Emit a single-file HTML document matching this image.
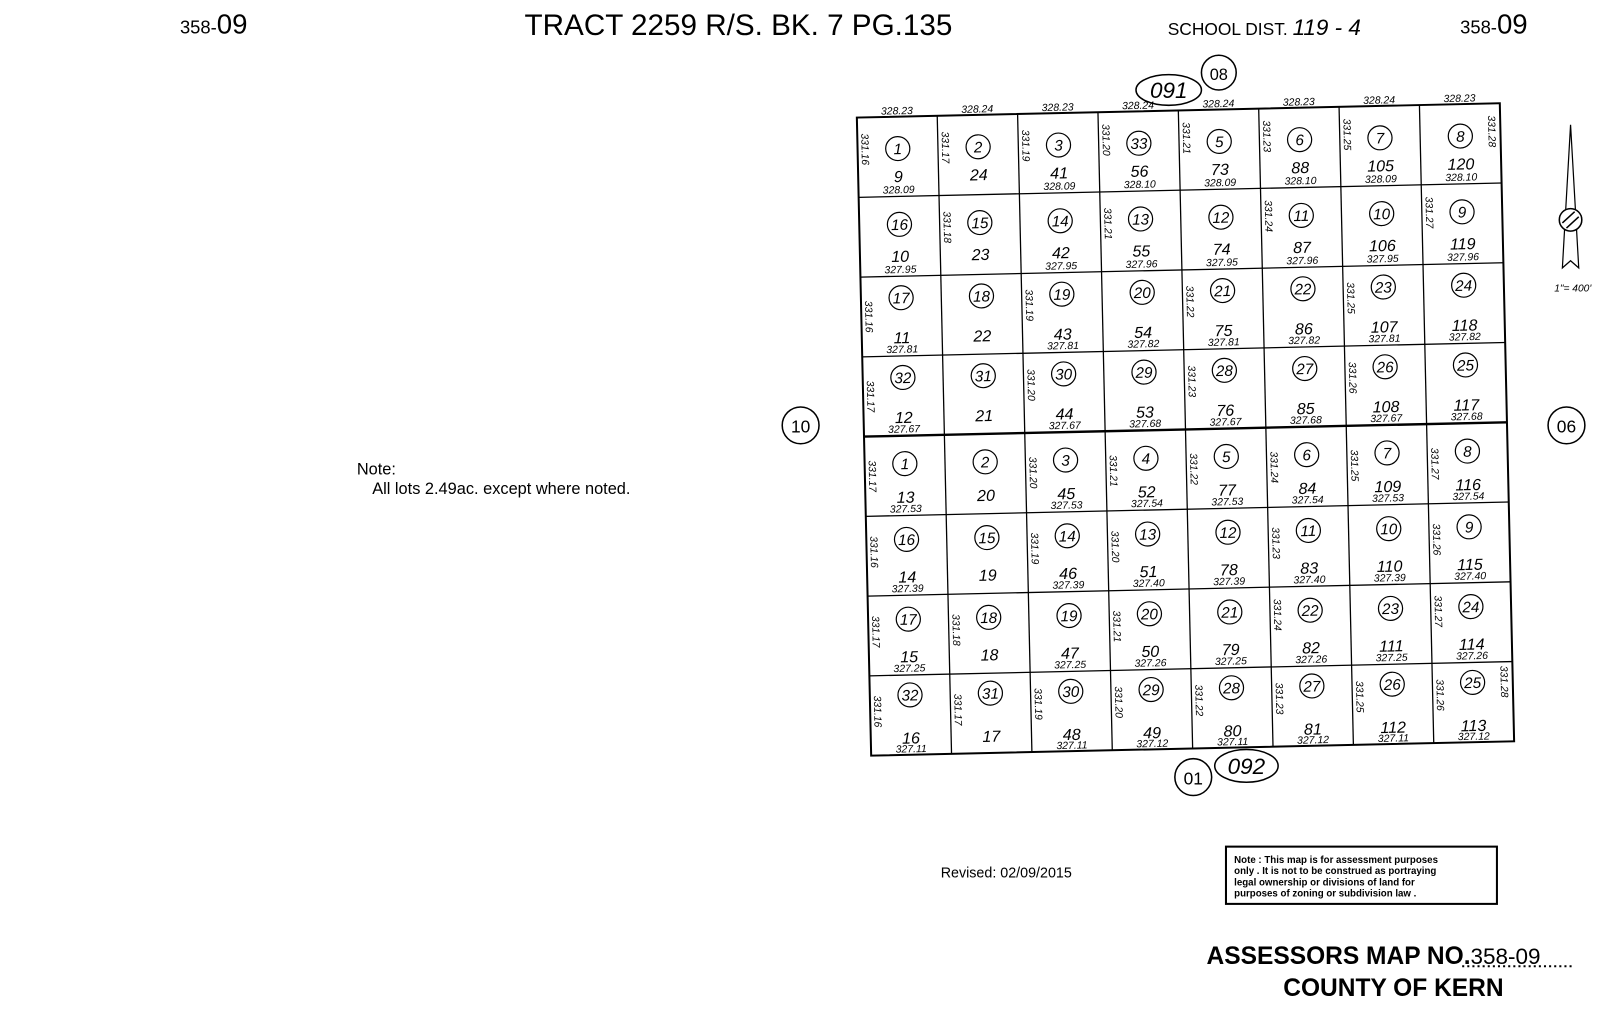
<!DOCTYPE html>
<html><head><meta charset="utf-8"><style>
html,body{margin:0;padding:0;background:#fff;width:1600px;height:1018px;overflow:hidden}
svg{display:block}
text{font-family:"Liberation Sans",sans-serif;fill:#000}
.g text{font-style:italic;text-anchor:middle}
.c{font-size:19px}
.p{font-size:20px}
.a{font-size:13px}
.t{font-size:13px}
.s{font-size:13px;text-anchor:start!important}
.g circle{fill:none;stroke:#000;stroke-width:1.5}
</style></head><body>
<svg width="1600" height="1018" viewBox="0 0 1600 1018" xmlns="http://www.w3.org/2000/svg">
<g transform="scale(1.0225)">
<text x="176" y="33" font-size="18">358-<tspan font-size="27">09</tspan></text>
<text x="513" y="34" font-size="29">TRACT 2259 R/S. BK. 7 PG.135</text>
<text x="1142" y="34" font-size="17">SCHOOL DIST. <tspan font-style="italic" font-size="22">119 - 4</tspan></text>
<text x="1428" y="33" font-size="18">358-<tspan font-size="27">09</tspan></text>

<ellipse cx="1143" cy="88" rx="32" ry="15" fill="none" stroke="#000" stroke-width="1.5"/>
<text x="1143" y="96" font-size="22" font-style="italic" text-anchor="middle">091</text>
<circle cx="1192" cy="71" r="17" fill="none" stroke="#000" stroke-width="1.5"/>
<text x="1192" y="78" font-size="16" text-anchor="middle">08</text>
<circle cx="783" cy="416" r="18" fill="none" stroke="#000" stroke-width="1.5"/>
<text x="783" y="423" font-size="17" text-anchor="middle">10</text>
<circle cx="1532" cy="416" r="18" fill="none" stroke="#000" stroke-width="1.5"/>
<text x="1532" y="423" font-size="17" text-anchor="middle">06</text>
<circle cx="1167" cy="760" r="18" fill="none" stroke="#000" stroke-width="1.5"/>
<text x="1167" y="767" font-size="17" text-anchor="middle">01</text>
<ellipse cx="1219" cy="749" rx="31" ry="16" fill="none" stroke="#000" stroke-width="1.5"/>
<text x="1219" y="757" font-size="22" font-style="italic" text-anchor="middle">092</text>

<!-- north arrow -->
<path d="M1536 122 L1528 262 L1536 255 L1544 262 Z" fill="none" stroke="#000" stroke-width="1.2"/>
<circle cx="1536" cy="215" r="11" fill="#fff" stroke="#000" stroke-width="1.5"/>
<line x1="1528" y1="218" x2="1540" y2="207" stroke="#000" stroke-width="1.5"/>
<line x1="1532" y1="223" x2="1544" y2="212" stroke="#000" stroke-width="1.5"/>
<text x="1520" y="285" font-size="10" font-style="italic">1"= 400'</text>

<text x="349" y="464" font-size="16">Note:</text>
<text x="364" y="483" font-size="16">All lots 2.49ac. except where noted.</text>
<text x="920" y="858" font-size="14">Revised:  02/09/2015</text>

<rect x="1199" y="828" width="265" height="56" fill="none" stroke="#000" stroke-width="2"/>
<text font-size="9.5" font-weight="bold"><tspan x="1207" y="844">Note : This map is for assessment purposes</tspan><tspan x="1207" y="855">only . It is not to be construed as portraying</tspan><tspan x="1207" y="866">legal ownership or divisions of land for</tspan><tspan x="1207" y="877">purposes of zoning or subdivision law .</tspan></text>
<text x="1180" y="943" font-size="24" font-weight="bold">ASSESSORS MAP NO.<tspan font-weight="normal" font-size="22">358-09</tspan></text>
<line x1="1430" y1="945" x2="1540" y2="945" stroke="#000" stroke-width="2" stroke-dasharray="2 3"/>
<text x="1255" y="974" font-size="24" font-weight="bold">COUNTY OF KERN</text>

<g class="g" transform="matrix(0.786,-0.0175,0.0175,0.78,838,115)">
<rect x="0" y="0" width="800" height="800" fill="none" stroke="#000" stroke-width="2.5"/>
<g stroke="#000" stroke-width="1.6">
<line x1="100" y1="0" x2="100" y2="800"/><line x1="200" y1="0" x2="200" y2="800"/><line x1="300" y1="0" x2="300" y2="800"/><line x1="400" y1="0" x2="400" y2="800"/><line x1="500" y1="0" x2="500" y2="800"/><line x1="600" y1="0" x2="600" y2="800"/><line x1="700" y1="0" x2="700" y2="800"/>
<line x1="0" y1="100" x2="800" y2="100"/><line x1="0" y1="200" x2="800" y2="200"/><line x1="0" y1="300" x2="800" y2="300"/><line x1="0" y1="400" x2="800" y2="400" stroke-width="3"/><line x1="0" y1="500" x2="800" y2="500"/><line x1="0" y1="600" x2="800" y2="600"/><line x1="0" y1="700" x2="800" y2="700"/>
</g>
<text class="t" x="50" y="-3">328.23</text><text class="t" x="150" y="-3">328.24</text><text class="t" x="250" y="-3">328.23</text><text class="t" x="350" y="-3">328.24</text><text class="t" x="450" y="-3">328.24</text><text class="t" x="550" y="-3">328.23</text><text class="t" x="650" y="-3">328.24</text><text class="t" x="750" y="-3">328.23</text>

<g transform="translate(0,0)"><circle cx="50" cy="40" r="15"/><text class="c" x="50" y="47">1</text><text class="p" x="50" y="82">9</text><text class="a" x="50" y="96">328.09</text><text class="s" transform="translate(5,20) rotate(90)">331.16</text></g>
<g transform="translate(100,0)"><circle cx="50" cy="40" r="15"/><text class="c" x="50" y="47">2</text><text class="p" x="50" y="82">24</text><text class="s" transform="translate(5,20) rotate(90)">331.17</text></g>
<g transform="translate(200,0)"><circle cx="50" cy="40" r="15"/><text class="c" x="50" y="47">3</text><text class="p" x="50" y="82">41</text><text class="a" x="50" y="96">328.09</text><text class="s" transform="translate(5,20) rotate(90)">331.19</text></g>
<g transform="translate(300,0)"><circle cx="50" cy="40" r="15"/><text class="c" x="50" y="47">33</text><text class="p" x="50" y="82">56</text><text class="a" x="50" y="96">328.10</text><text class="s" transform="translate(5,15) rotate(90)">331.20</text></g>
<g transform="translate(400,0)"><circle cx="50" cy="40" r="15"/><text class="c" x="50" y="47">5</text><text class="p" x="50" y="82">73</text><text class="a" x="50" y="96">328.09</text><text class="s" transform="translate(5,15) rotate(90)">331.21</text></g>
<g transform="translate(500,0)"><circle cx="50" cy="40" r="15"/><text class="c" x="50" y="47">6</text><text class="p" x="50" y="82">88</text><text class="a" x="50" y="96">328.10</text><text class="s" transform="translate(5,15) rotate(90)">331.23</text></g>
<g transform="translate(600,0)"><circle cx="50" cy="40" r="15"/><text class="c" x="50" y="47">7</text><text class="p" x="50" y="82">105</text><text class="a" x="50" y="96">328.09</text><text class="s" transform="translate(5,15) rotate(90)">331.25</text></g>
<g transform="translate(700,0)"><circle cx="50" cy="40" r="15"/><text class="c" x="50" y="47">8</text><text class="p" x="50" y="82">120</text><text class="a" x="50" y="96">328.10</text><text class="s" transform="translate(85,15) rotate(90)">331.28</text></g>
<g transform="translate(0,100)"><circle cx="50" cy="35" r="15"/><text class="c" x="50" y="42">16</text><text class="p" x="50" y="82">10</text><text class="a" x="50" y="96">327.95</text></g>
<g transform="translate(100,100)"><circle cx="50" cy="35" r="15"/><text class="c" x="50" y="42">15</text><text class="p" x="50" y="82">23</text><text class="s" transform="translate(5,20) rotate(90)">331.18</text></g>
<g transform="translate(200,100)"><circle cx="50" cy="35" r="15"/><text class="c" x="50" y="42">14</text><text class="p" x="50" y="82">42</text><text class="a" x="50" y="96">327.95</text></g>
<g transform="translate(300,100)"><circle cx="50" cy="35" r="15"/><text class="c" x="50" y="42">13</text><text class="p" x="50" y="82">55</text><text class="a" x="50" y="96">327.96</text><text class="s" transform="translate(5,20) rotate(90)">331.21</text></g>
<g transform="translate(400,100)"><circle cx="50" cy="35" r="15"/><text class="c" x="50" y="42">12</text><text class="p" x="50" y="82">74</text><text class="a" x="50" y="96">327.95</text></g>
<g transform="translate(500,100)"><circle cx="50" cy="35" r="15"/><text class="c" x="50" y="42">11</text><text class="p" x="50" y="82">87</text><text class="a" x="50" y="96">327.96</text><text class="s" transform="translate(5,15) rotate(90)">331.24</text></g>
<g transform="translate(600,100)"><circle cx="50" cy="35" r="15"/><text class="c" x="50" y="42">10</text><text class="p" x="50" y="82">106</text><text class="a" x="50" y="96">327.95</text></g>
<g transform="translate(700,100)"><circle cx="50" cy="35" r="15"/><text class="c" x="50" y="42">9</text><text class="p" x="50" y="82">119</text><text class="a" x="50" y="96">327.96</text><text class="s" transform="translate(5,15) rotate(90)">331.27</text></g>
<g transform="translate(0,200)"><circle cx="50" cy="27" r="15"/><text class="c" x="50" y="34">17</text><text class="p" x="50" y="84">11</text><text class="a" x="50" y="96">327.81</text><text class="s" transform="translate(5,30) rotate(90)">331.16</text></g>
<g transform="translate(100,200)"><circle cx="50" cy="27" r="15"/><text class="c" x="50" y="34">18</text><text class="p" x="50" y="84">22</text></g>
<g transform="translate(200,200)"><circle cx="50" cy="27" r="15"/><text class="c" x="50" y="34">19</text><text class="p" x="50" y="84">43</text><text class="a" x="50" y="96">327.81</text><text class="s" transform="translate(5,20) rotate(90)">331.19</text></g>
<g transform="translate(300,200)"><circle cx="50" cy="27" r="15"/><text class="c" x="50" y="34">20</text><text class="p" x="50" y="84">54</text><text class="a" x="50" y="96">327.82</text></g>
<g transform="translate(400,200)"><circle cx="50" cy="27" r="15"/><text class="c" x="50" y="34">21</text><text class="p" x="50" y="84">75</text><text class="a" x="50" y="96">327.81</text><text class="s" transform="translate(5,20) rotate(90)">331.22</text></g>
<g transform="translate(500,200)"><circle cx="50" cy="27" r="15"/><text class="c" x="50" y="34">22</text><text class="p" x="50" y="84">86</text><text class="a" x="50" y="96">327.82</text></g>
<g transform="translate(600,200)"><circle cx="50" cy="27" r="15"/><text class="c" x="50" y="34">23</text><text class="p" x="50" y="84">107</text><text class="a" x="50" y="96">327.81</text><text class="s" transform="translate(5,20) rotate(90)">331.25</text></g>
<g transform="translate(700,200)"><circle cx="50" cy="27" r="15"/><text class="c" x="50" y="34">24</text><text class="p" x="50" y="84">118</text><text class="a" x="50" y="96">327.82</text></g>
<g transform="translate(0,300)"><circle cx="50" cy="27" r="15"/><text class="c" x="50" y="34">32</text><text class="p" x="50" y="84">12</text><text class="a" x="50" y="96">327.67</text><text class="s" transform="translate(5,30) rotate(90)">331.17</text></g>
<g transform="translate(100,300)"><circle cx="50" cy="27" r="15"/><text class="c" x="50" y="34">31</text><text class="p" x="50" y="84">21</text></g>
<g transform="translate(200,300)"><circle cx="50" cy="27" r="15"/><text class="c" x="50" y="34">30</text><text class="p" x="50" y="84">44</text><text class="a" x="50" y="96">327.67</text><text class="s" transform="translate(5,20) rotate(90)">331.20</text></g>
<g transform="translate(300,300)"><circle cx="50" cy="27" r="15"/><text class="c" x="50" y="34">29</text><text class="p" x="50" y="84">53</text><text class="a" x="50" y="96">327.68</text></g>
<g transform="translate(400,300)"><circle cx="50" cy="27" r="15"/><text class="c" x="50" y="34">28</text><text class="p" x="50" y="84">76</text><text class="a" x="50" y="96">327.67</text><text class="s" transform="translate(5,20) rotate(90)">331.23</text></g>
<g transform="translate(500,300)"><circle cx="50" cy="27" r="15"/><text class="c" x="50" y="34">27</text><text class="p" x="50" y="84">85</text><text class="a" x="50" y="96">327.68</text></g>
<g transform="translate(600,300)"><circle cx="50" cy="27" r="15"/><text class="c" x="50" y="34">26</text><text class="p" x="50" y="84">108</text><text class="a" x="50" y="96">327.67</text><text class="s" transform="translate(5,20) rotate(90)">331.26</text></g>
<g transform="translate(700,300)"><circle cx="50" cy="27" r="15"/><text class="c" x="50" y="34">25</text><text class="p" x="50" y="84">117</text><text class="a" x="50" y="96">327.68</text></g>
<g transform="translate(0,400)"><circle cx="50" cy="35" r="15"/><text class="c" x="50" y="42">1</text><text class="p" x="50" y="84">13</text><text class="a" x="50" y="96">327.53</text><text class="s" transform="translate(5,30) rotate(90)">331.17</text></g>
<g transform="translate(100,400)"><circle cx="50" cy="35" r="15"/><text class="c" x="50" y="42">2</text><text class="p" x="50" y="84">20</text></g>
<g transform="translate(200,400)"><circle cx="50" cy="35" r="15"/><text class="c" x="50" y="42">3</text><text class="p" x="50" y="84">45</text><text class="a" x="50" y="96">327.53</text><text class="s" transform="translate(5,30) rotate(90)">331.20</text></g>
<g transform="translate(300,400)"><circle cx="50" cy="35" r="15"/><text class="c" x="50" y="42">4</text><text class="p" x="50" y="84">52</text><text class="a" x="50" y="96">327.54</text><text class="s" transform="translate(5,30) rotate(90)">331.21</text></g>
<g transform="translate(400,400)"><circle cx="50" cy="35" r="15"/><text class="c" x="50" y="42">5</text><text class="p" x="50" y="84">77</text><text class="a" x="50" y="96">327.53</text><text class="s" transform="translate(5,30) rotate(90)">331.22</text></g>
<g transform="translate(500,400)"><circle cx="50" cy="35" r="15"/><text class="c" x="50" y="42">6</text><text class="p" x="50" y="84">84</text><text class="a" x="50" y="96">327.54</text><text class="s" transform="translate(5,30) rotate(90)">331.24</text></g>
<g transform="translate(600,400)"><circle cx="50" cy="35" r="15"/><text class="c" x="50" y="42">7</text><text class="p" x="50" y="84">109</text><text class="a" x="50" y="96">327.53</text><text class="s" transform="translate(5,30) rotate(90)">331.25</text></g>
<g transform="translate(700,400)"><circle cx="50" cy="35" r="15"/><text class="c" x="50" y="42">8</text><text class="p" x="50" y="84">116</text><text class="a" x="50" y="96">327.54</text><text class="s" transform="translate(5,30) rotate(90)">331.27</text></g>
<g transform="translate(0,500)"><circle cx="50" cy="30" r="15"/><text class="c" x="50" y="37">16</text><text class="p" x="50" y="84">14</text><text class="a" x="50" y="96">327.39</text><text class="s" transform="translate(5,25) rotate(90)">331.16</text></g>
<g transform="translate(100,500)"><circle cx="50" cy="30" r="15"/><text class="c" x="50" y="37">15</text><text class="p" x="50" y="84">19</text></g>
<g transform="translate(200,500)"><circle cx="50" cy="30" r="15"/><text class="c" x="50" y="37">14</text><text class="p" x="50" y="84">46</text><text class="a" x="50" y="96">327.39</text><text class="s" transform="translate(5,25) rotate(90)">331.19</text></g>
<g transform="translate(300,500)"><circle cx="50" cy="30" r="15"/><text class="c" x="50" y="37">13</text><text class="p" x="50" y="84">51</text><text class="a" x="50" y="96">327.40</text><text class="s" transform="translate(5,25) rotate(90)">331.20</text></g>
<g transform="translate(400,500)"><circle cx="50" cy="30" r="15"/><text class="c" x="50" y="37">12</text><text class="p" x="50" y="84">78</text><text class="a" x="50" y="96">327.39</text></g>
<g transform="translate(500,500)"><circle cx="50" cy="30" r="15"/><text class="c" x="50" y="37">11</text><text class="p" x="50" y="84">83</text><text class="a" x="50" y="96">327.40</text><text class="s" transform="translate(5,25) rotate(90)">331.23</text></g>
<g transform="translate(600,500)"><circle cx="50" cy="30" r="15"/><text class="c" x="50" y="37">10</text><text class="p" x="50" y="84">110</text><text class="a" x="50" y="96">327.39</text></g>
<g transform="translate(700,500)"><circle cx="50" cy="30" r="15"/><text class="c" x="50" y="37">9</text><text class="p" x="50" y="84">115</text><text class="a" x="50" y="96">327.40</text><text class="s" transform="translate(5,25) rotate(90)">331.26</text></g>
<g transform="translate(0,600)"><circle cx="50" cy="30" r="15"/><text class="c" x="50" y="37">17</text><text class="p" x="50" y="84">15</text><text class="a" x="50" y="96">327.25</text><text class="s" transform="translate(5,25) rotate(90)">331.17</text></g>
<g transform="translate(100,600)"><circle cx="50" cy="30" r="15"/><text class="c" x="50" y="37">18</text><text class="p" x="50" y="84">18</text><text class="s" transform="translate(5,25) rotate(90)">331.18</text></g>
<g transform="translate(200,600)"><circle cx="50" cy="30" r="15"/><text class="c" x="50" y="37">19</text><text class="p" x="50" y="84">47</text><text class="a" x="50" y="96">327.25</text></g>
<g transform="translate(300,600)"><circle cx="50" cy="30" r="15"/><text class="c" x="50" y="37">20</text><text class="p" x="50" y="84">50</text><text class="a" x="50" y="96">327.26</text><text class="s" transform="translate(5,25) rotate(90)">331.21</text></g>
<g transform="translate(400,600)"><circle cx="50" cy="30" r="15"/><text class="c" x="50" y="37">21</text><text class="p" x="50" y="84">79</text><text class="a" x="50" y="96">327.25</text></g>
<g transform="translate(500,600)"><circle cx="50" cy="30" r="15"/><text class="c" x="50" y="37">22</text><text class="p" x="50" y="84">82</text><text class="a" x="50" y="96">327.26</text><text class="s" transform="translate(5,15) rotate(90)">331.24</text></g>
<g transform="translate(600,600)"><circle cx="50" cy="30" r="15"/><text class="c" x="50" y="37">23</text><text class="p" x="50" y="84">111</text><text class="a" x="50" y="96">327.25</text></g>
<g transform="translate(700,600)"><circle cx="50" cy="30" r="15"/><text class="c" x="50" y="37">24</text><text class="p" x="50" y="84">114</text><text class="a" x="50" y="96">327.26</text><text class="s" transform="translate(5,15) rotate(90)">331.27</text></g>
<g transform="translate(0,700)"><circle cx="50" cy="25" r="15"/><text class="c" x="50" y="32">32</text><text class="p" x="50" y="86">16</text><text class="a" x="50" y="97">327.11</text><text class="s" transform="translate(5,25) rotate(90)">331.16</text></g>
<g transform="translate(100,700)"><circle cx="50" cy="25" r="15"/><text class="c" x="50" y="32">31</text><text class="p" x="50" y="86">17</text><text class="s" transform="translate(5,25) rotate(90)">331.17</text></g>
<g transform="translate(200,700)"><circle cx="50" cy="25" r="15"/><text class="c" x="50" y="32">30</text><text class="p" x="50" y="86">48</text><text class="a" x="50" y="97">327.11</text><text class="s" transform="translate(5,20) rotate(90)">331.19</text></g>
<g transform="translate(300,700)"><circle cx="50" cy="25" r="15"/><text class="c" x="50" y="32">29</text><text class="p" x="50" y="86">49</text><text class="a" x="50" y="97">327.12</text><text class="s" transform="translate(5,20) rotate(90)">331.20</text></g>
<g transform="translate(400,700)"><circle cx="50" cy="25" r="15"/><text class="c" x="50" y="32">28</text><text class="p" x="50" y="86">80</text><text class="a" x="50" y="97">327.11</text><text class="s" transform="translate(5,20) rotate(90)">331.22</text></g>
<g transform="translate(500,700)"><circle cx="50" cy="25" r="15"/><text class="c" x="50" y="32">27</text><text class="p" x="50" y="86">81</text><text class="a" x="50" y="97">327.12</text><text class="s" transform="translate(5,20) rotate(90)">331.23</text></g>
<g transform="translate(600,700)"><circle cx="50" cy="25" r="15"/><text class="c" x="50" y="32">26</text><text class="p" x="50" y="86">112</text><text class="a" x="50" y="97">327.11</text><text class="s" transform="translate(5,20) rotate(90)">331.25</text></g>
<g transform="translate(700,700)"><circle cx="50" cy="25" r="15"/><text class="c" x="50" y="32">25</text><text class="p" x="50" y="86">113</text><text class="a" x="50" y="97">327.12</text><text class="s" transform="translate(5,20) rotate(90)">331.26</text><text class="s" transform="translate(85,5) rotate(90)">331.28</text></g>
</g>
</g>
</svg>
</body></html>
